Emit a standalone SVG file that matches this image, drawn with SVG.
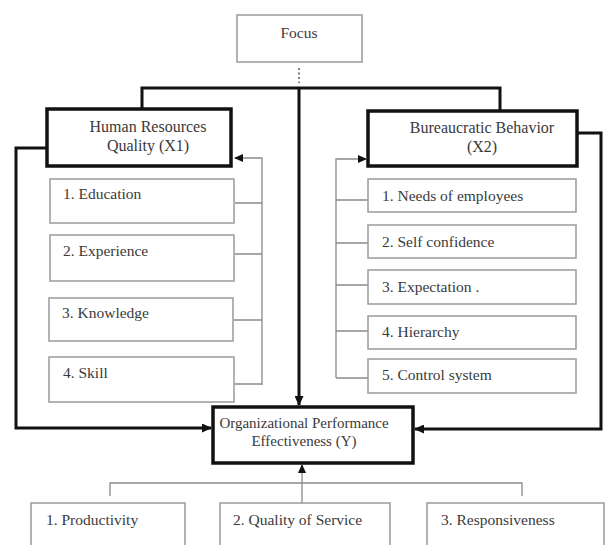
<svg xmlns="http://www.w3.org/2000/svg" width="606" height="545" viewBox="0 0 606 545">
<style>
.t{font-family:"Liberation Serif","Times New Roman",serif;fill:#3a3a3a;font-size:15.5px}
.h{font-size:16px}
.y{font-size:15px}
.lb{fill:#fff;stroke:#9a9a9a;stroke-width:1.5}
.tb{fill:#fff;stroke:#111;stroke-width:3.5}
.thick{fill:none;stroke:#111;stroke-width:3}
.thin{fill:none;stroke:#8a8a8a;stroke-width:1.3}
</style>
<defs>
<marker id="ah" markerUnits="userSpaceOnUse" markerWidth="10" markerHeight="9" refX="9" refY="4.5" orient="auto">
<path d="M0,0 L10,4.5 L0,9 Z" fill="#111"/>
</marker>
<marker id="as" markerUnits="userSpaceOnUse" markerWidth="9" markerHeight="8" refX="8" refY="4" orient="auto">
<path d="M0,0 L9,4 L0,8 Z" fill="#111"/>
</marker>
</defs>
<rect width="606" height="545" fill="#fff"/>
<g id="connectors">
<path d="M299,68 V83" fill="none" stroke="#555" stroke-width="1.5" stroke-dasharray="2,2.5"/>
<path class="thick" d="M142,109 V88 H500 V111"/>
<path class="thick" d="M299,88 V405" marker-end="url(#ah)"/>
<path class="thick" d="M47,148 H16 V428 H211" marker-end="url(#ah)"/>
<path class="thick" d="M577,133 H601 V429 H415" marker-end="url(#ah)"/>
<path class="thin" d="M262,385 V158 H235" marker-end="url(#as)"/>
<path class="thin" d="M235,203 H262 M235,254 H262 M234,320 H262 M235,384 H262"/>
<path class="thin" d="M336,378 V159 H366" marker-end="url(#as)"/>
<path class="thin" d="M336,200 H368 M336,243 H368 M336,285 H368 M336,331 H368 M336,378 H368"/>
<path class="thin" d="M110,496 V483 H522 V496"/>
<path class="thin" d="M302,503 V465" marker-end="url(#as)"/>
</g>
<g id="focus"><rect class="lb" x="237" y="15" width="125" height="47"/><text class="t" x="299" y="38" text-anchor="middle">Focus</text></g>
<g id="x1"><rect class="tb" x="47" y="109" width="184" height="57"/><text class="t h" x="148" y="132" text-anchor="middle">Human Resources</text><text class="t h" x="148" y="151" text-anchor="middle">Quality (X1)</text></g>
<g id="x2"><rect class="tb" x="368" y="111" width="209" height="55"/><text class="t h" x="482" y="133" text-anchor="middle">Bureaucratic Behavior</text><text class="t h" x="482" y="152" text-anchor="middle">(X2)</text></g>
<g id="l1"><rect class="lb" x="50" y="179" width="184" height="44"/><text class="t" x="63" y="199">1. Education</text></g>
<g id="l2"><rect class="lb" x="50" y="235" width="184" height="46"/><text class="t" x="63" y="256">2. Experience</text></g>
<g id="l3"><rect class="lb" x="49" y="298" width="184" height="43"/><text class="t" x="62" y="318">3. Knowledge</text></g>
<g id="l4"><rect class="lb" x="49" y="357" width="185" height="45"/><text class="t" x="63" y="378">4. Skill</text></g>
<g id="r1"><rect class="lb" x="368" y="179" width="208" height="33"/><text class="t" x="382" y="201">1. Needs of employees</text></g>
<g id="r2"><rect class="lb" x="368" y="225" width="208" height="33"/><text class="t" x="382" y="247">2. Self confidence</text></g>
<g id="r3"><rect class="lb" x="368" y="270" width="208" height="34"/><text class="t" x="382" y="292">3. Expectation .</text></g>
<g id="r4"><rect class="lb" x="368" y="316" width="208" height="33"/><text class="t" x="382" y="337">4. Hierarchy</text></g>
<g id="r5"><rect class="lb" x="368" y="359" width="208" height="34"/><text class="t" x="382" y="380">5. Control system</text></g>
<g id="y"><rect class="tb" x="213" y="407" width="200" height="56"/><text class="t y" x="304" y="428" text-anchor="middle">Organizational Performance</text><text class="t y" x="304" y="446" text-anchor="middle">Effectiveness (Y)</text></g>
<g id="b1"><rect class="lb" x="31" y="503" width="154" height="50"/><text class="t" x="46" y="525">1. Productivity</text></g>
<g id="b2"><rect class="lb" x="220" y="503" width="170" height="50"/><text class="t" x="233" y="525">2. Quality of Service</text></g>
<g id="b3"><rect class="lb" x="427" y="503" width="177" height="50"/><text class="t" x="441" y="525">3. Responsiveness</text></g>
</svg>
